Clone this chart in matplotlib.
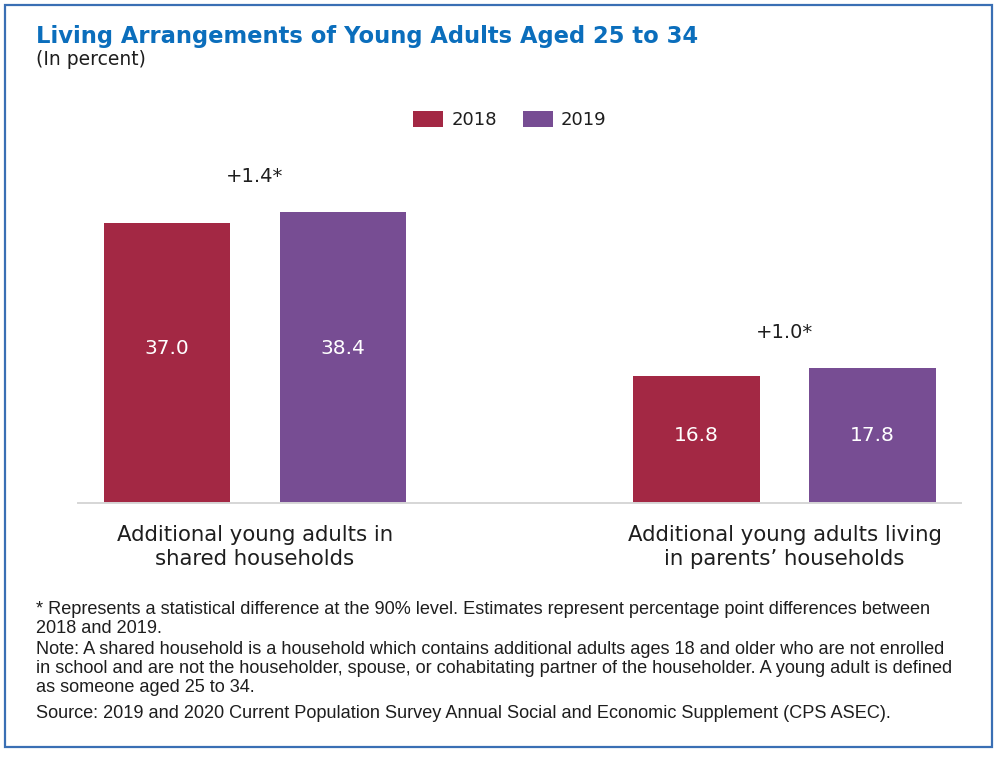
import matplotlib
matplotlib.use("Agg")
import matplotlib.pyplot as plt
from matplotlib.patches import Rectangle
import numpy as np

# ---- data ----
categories = ["Additional young adults in\nshared households",
              "Additional young adults living\nin parents\u2019 households"]
series_names = ["2018", "2019"]
values_2018 = [37.0, 16.8]
values_2019 = [38.4, 17.8]
significant = [True, True]

title = "Living Arrangements of Young Adults Aged 25 to 34"
subtitle = "(In percent)"
footnotes = [
    "* Represents a statistical difference at the 90% level. Estimates represent percentage point differences between",
    "2018 and 2019.",
    "Note: A shared household is a household which contains additional adults ages 18 and older who are not enrolled",
    "in school and are not the householder, spouse, or cohabitating partner of the householder. A young adult is defined",
    "as someone aged 25 to 34.",
    "Source: 2019 and 2020 Current Population Survey Annual Social and Economic Supplement (CPS ASEC).",
]

# ---- style ----
c2018 = "#a32844"
c2019 = "#774d93"
title_color = "#0b6ebc"
border_color = "#3a6fb4"
text_color = "#1e1e1e"
W, H = 1000, 761
plt.rcParams['font.family'] = ['DejaVu Sans']

fig = plt.figure(figsize=(W / 100, H / 100), dpi=100)

def fx(px):
    return px / W

def fy(py):
    return 1 - py / H

# axes: baseline at y=503 px, from x=78 to 961 px
ax_left, ax_right, ax_bottom, ax_top = 78, 961, 503, 100
ax = fig.add_axes([fx(ax_left), fy(ax_bottom), (ax_right - ax_left) / W, (ax_bottom - ax_top) / H])

px_per_unit = 280 / 37.0
ax.set_ylim(0, (ax_bottom - ax_top) / px_per_unit)
group_px = 529.5
x = np.arange(len(categories))
ax.set_xlim((ax_left - 255) / group_px, (ax_right - 255) / group_px)
bw = 126.5 / group_px
off = 88 / group_px

b1 = ax.bar(x - off, values_2018, bw, color=c2018, label=series_names[0], linewidth=0)
b2 = ax.bar(x + off, values_2019, bw, color=c2019, label=series_names[1], linewidth=0)

for s in ["top", "left", "right"]:
    ax.spines[s].set_visible(False)
ax.spines["bottom"].set_color("#d6d6d6")
ax.spines["bottom"].set_linewidth(1.4)
ax.set_yticks([])
ax.set_xticks(x)
ax.set_xticklabels(categories, fontsize=15.3, color=text_color, linespacing=1.3)
ax.tick_params(axis="x", length=0, pad=15.5)

# value labels inside bars
label_frac = [0.54, 0.515]
for i in range(len(categories)):
    ly = np.mean([values_2018[i], values_2019[i]]) * label_frac[i]
    ax.text(x[i] - off, ly, f"{values_2018[i]:.1f}", ha="center", va="center",
            color="white", fontsize=14.5)
    ax.text(x[i] + off, ly, f"{values_2019[i]:.1f}", ha="center", va="center",
            color="white", fontsize=14.5)
    d = values_2019[i] - values_2018[i]
    star = "*" if significant[i] else ""
    ax.annotate(f"{d:+.1f}{star}", xy=(x[i], max(values_2018[i], values_2019[i])),
                xytext=(0, 25.5), textcoords="offset points", ha="center", va="center",
                fontsize=14, color=text_color)

# legend
fig.legend(handles=[b1, b2], labels=series_names, loc="center", bbox_to_anchor=(fx(510), fy(120)),
           ncol=2, frameon=False, fontsize=13, handlelength=1.65, handleheight=1.05,
           handletextpad=0.45, columnspacing=1.45, labelcolor=text_color)

# title
fig.text(fx(36), fy(42.5), title, fontsize=16.3, fontweight="bold", color=title_color,
         ha="left", va="baseline")
fig.text(fx(36), fy(65), subtitle, fontsize=13.5, color=text_color, ha="left", va="baseline")

# footnotes
foot_y = [609, 628.5, 649, 668.5, 688, 713]
for t, yy in zip(footnotes, foot_y):
    fig.text(fx(36), fy(yy), t, fontsize=13.05, color=text_color, ha="left", va="center",
             family=["Liberation Sans", "DejaVu Sans"])

# border
fig.patches.append(Rectangle((fx(4.5), fy(747)), (992 - 4.5) / W, (747 - 5) / H,
                             transform=fig.transFigure, fill=False, edgecolor=border_color,
                             linewidth=1.6))

fig.savefig("out.png", dpi=100)
